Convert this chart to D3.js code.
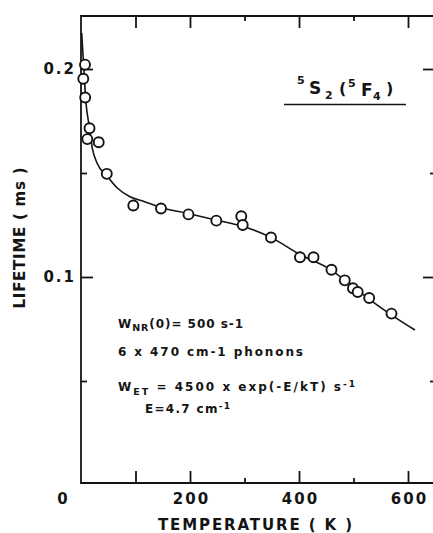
<!DOCTYPE html>
<html>
<head>
<meta charset="utf-8">
<script src="https://cdn.jsdelivr.net/npm/d3@7"></script>
<style>
  html, body { margin: 0; padding: 0; background: #fff; }
  svg { display: block; font-family: "DejaVu Sans", sans-serif; font-weight: bold; }
</style>
</head>
<body>
<svg id="chart" width="433" height="533"></svg>
<script>
// --- 1. Données ---
const measTemp = [7.3, 4.2, 7.7, 15.6, 11.6, 32.5, 47.3, 96, 146.8, 197.2, 248.3, 294.1, 296.7,
    348.6, 401.8, 426.6, 459.6, 484, 499, 507.7, 528.8, 569.7];
const measLifetime = [0.2021, 0.1953, 0.1863, 0.1715, 0.1663, 0.1648, 0.1496, 0.1344, 0.1329,
    0.1301, 0.1271, 0.1292, 0.1250, 0.1190, 0.1095, 0.1095, 0.1035, 0.0984, 0.0946, 0.0928,
    0.0899, 0.0824];

// courbe ajustée (lue point par point)
const fitTemp = [1.3, 3.7, 6.4, 9.2, 14.7, 20.7, 29.4, 47.7, 66.6, 89.9, 115.6, 146.8, 196.9,
    247.7, 297.8, 349.9, 401.8, 458.7, 499, 528.4, 570, 612.8];
const fitLifetime = [0.2173, 0.2067, 0.1947, 0.1837, 0.1731, 0.1620, 0.1548, 0.1486, 0.1428,
    0.1386, 0.1363, 0.1334, 0.1305, 0.1274, 0.1243, 0.1188, 0.1108, 0.1034, 0.0952, 0.0894,
    0.0817, 0.0745];

const xMajorTicks = [100, 200, 400, 600];
const xMinorTicks = [300, 500];
const xLabelTicks = [0, 200, 400, 600];
const yMajorTicks = [0.1, 0.2];
const yMinorTicks = [0.05, 0.15];

// --- 2. Mise en page ---
const svg = d3.select("#chart");
const ink = "#141414";
const frameTop = 16, frameBottom = 483, frameRight = 434;

const x = d3.scaleLinear().domain([0, 600]).range([81, 408]);
const y = d3.scaleLinear().domain([0, 0.2]).range([485, 69]);
const frameLeft = x(0);

// --- 3. Cadre ---
svg.append("path")
    .attr("d", `M${frameRight},${frameTop}H${frameLeft}V${frameBottom}H${frameRight}`)
    .attr("fill", "none")
    .attr("stroke", ink)
    .attr("stroke-width", 1.8);

// --- 4. Graduations (vers l'intérieur) ---
function tickAxis(axis, transform, values, size) {
    const g = svg.append("g")
        .attr("transform", transform)
        .call(axis.tickValues(values).tickSize(-size).tickFormat(""));
    g.select(".domain").remove();
    g.selectAll(".tick line").attr("stroke", ink).attr("stroke-width", 1.8);
    return g;
}
tickAxis(d3.axisBottom(x), `translate(0,${frameBottom})`, xMajorTicks, 12);
tickAxis(d3.axisBottom(x), `translate(0,${frameBottom})`, xMinorTicks, 5);
tickAxis(d3.axisTop(x), `translate(0,${frameTop})`, xMajorTicks, 12);
tickAxis(d3.axisTop(x), `translate(0,${frameTop})`, xMinorTicks, 5);
tickAxis(d3.axisLeft(y), `translate(${frameLeft},0)`, yMajorTicks, 12);
tickAxis(d3.axisLeft(y), `translate(${frameLeft},0)`, yMinorTicks, 6);
tickAxis(d3.axisRight(y), `translate(${frameRight},0)`, yMajorTicks, 11);
tickAxis(d3.axisRight(y), `translate(${frameRight},0)`, yMinorTicks, 4);

// --- 5. Étiquettes des axes ---
const xLabels = svg.append("g")
    .attr("transform", `translate(0,${frameBottom})`)
    .call(d3.axisBottom(x).tickValues(xLabelTicks).tickSize(0).tickPadding(10));
xLabels.select(".domain").remove();
xLabels.selectAll("text")
    .attr("font-family", "DejaVu Sans, sans-serif")
    .attr("font-size", 15).attr("fill", ink)
    .style("letter-spacing", "2px")
    .attr("dx", 1);
// le "0" est décalé à gauche sur l'original
xLabels.selectAll(".tick").filter(d => d === 0).select("text").attr("x", -19);

const yLabels = svg.append("g")
    .attr("transform", `translate(${frameLeft},0)`)
    .call(d3.axisLeft(y).tickValues(yMajorTicks).tickSize(0).tickPadding(5).tickFormat(d3.format(".1f")));
yLabels.select(".domain").remove();
yLabels.selectAll("text")
    .attr("font-family", "DejaVu Sans, sans-serif")
    .attr("font-size", 15).attr("fill", ink)
    .style("letter-spacing", "2px");

svg.append("text")
    .attr("x", 255).attr("y", 530)
    .attr("text-anchor", "middle")
    .attr("font-size", 15).attr("fill", ink)
    .attr("textLength", 194).attr("lengthAdjust", "spacing")
    .text("TEMPERATURE ( K )");

svg.append("text")
    .attr("transform", "translate(25,238) rotate(-90)")
    .attr("text-anchor", "middle")
    .attr("font-size", 15).attr("fill", ink)
    .attr("textLength", 141).attr("lengthAdjust", "spacing")
    .text("LIFETIME ( ms )");

// --- 6. Courbe ajustée et points mesurés ---
const fitLine = d3.line()
    .x((d, i) => x(fitTemp[i]))
    .y(d => y(d))
    .curve(d3.curveMonotoneX);

svg.append("path")
    .datum(fitLifetime)
    .attr("d", fitLine)
    .attr("fill", "none")
    .attr("stroke", ink)
    .attr("stroke-width", 1.6);

svg.append("g")
    .selectAll("circle")
    .data(measLifetime)
    .join("circle")
    .attr("cx", (d, i) => x(measTemp[i]))
    .attr("cy", d => y(d))
    .attr("r", 5)
    .attr("fill", "#fff")
    .attr("stroke", ink)
    .attr("stroke-width", 1.9);

// --- 7. Titre 5S2(5F4) ---
const title = svg.append("text").attr("fill", ink);
const titleParts = [
    { t: "5", x: 297, y: 84, s: 11 },
    { t: "S", x: 309, y: 94, s: 17 },
    { t: "2", x: 325, y: 99, s: 11 },
    { t: "(", x: 339, y: 94, s: 16 },
    { t: "5", x: 348, y: 87, s: 11 },
    { t: "F", x: 361, y: 96, s: 17 },
    { t: "4", x: 373, y: 100, s: 11 },
    { t: ")", x: 386, y: 94, s: 16 }
];
title.selectAll("tspan").data(titleParts).join("tspan")
    .attr("x", d => d.x).attr("y", d => d.y)
    .attr("font-size", d => d.s)
    .text(d => d.t);

svg.append("line")
    .attr("x1", 284).attr("x2", 406)
    .attr("y1", 104.5).attr("y2", 104.5)
    .attr("stroke", ink).attr("stroke-width", 1.5);

// --- 8. Annotations ---
function annotate(xPos, yPos, width, parts) {
    const t = svg.append("text")
        .attr("x", xPos).attr("y", yPos)
        .attr("font-size", 12).attr("fill", ink)
        .attr("textLength", width).attr("lengthAdjust", "spacing");
    parts.forEach(p => {
        t.append("tspan")
            .attr("dy", p.dy || 0)
            .attr("font-size", p.s || 12)
            .text(p.t);
    });
}
annotate(118, 328, 125, [
    { t: "W" }, { t: "NR", s: 9.5, dy: 3 }, { t: "(0)= 500 s-1", dy: -3 }
]);
annotate(118, 356, 185, [{ t: "6 x 470 cm-1 phonons" }]);
annotate(118, 391, 237, [
    { t: "W" }, { t: "ET", s: 9.5, dy: 4 }, { t: " = 4500 x exp(-E/kT) s", dy: -4 },
    { t: "-1", s: 9, dy: -4 }
]);
annotate(145, 413, 85, [
    { t: "E=4.7 cm" }, { t: "-1", s: 9, dy: -4 }
]);
</script>
</body>
</html>
